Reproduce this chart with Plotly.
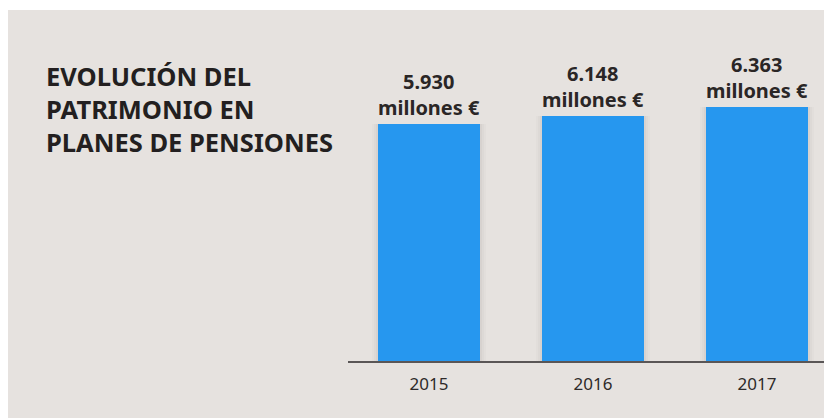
import plotly.graph_objects as go

years = ["2015", "2016", "2017"]
values = [5930, 6148, 6363]
unit_label = "millones €"
title_lines = ["EVOLUCIÓN DEL", "PATRIMONIO EN", "PLANES DE PENSIONES"]

OFF = 8  # page body margin
W, H = 832 - OFF, 418 - OFF
px = lambda v: (v - OFF) / W
py = lambda v: 1 - (v - OFF) / H

fig = go.Figure()

# soft shadow behind bars
for w, a in [(0.70, 0.018), (0.67, 0.025), (0.645, 0.035)]:
    fig.add_trace(go.Bar(x=years, y=values, width=w, marker=dict(color=f"rgba(60,40,30,{a})", line=dict(width=0)),
                         hoverinfo="skip", showlegend=False))

fig.add_trace(go.Bar(
    x=years, y=values, width=0.622,
    marker=dict(color="#2697EF", line=dict(width=0)),
    texttemplate="%{y:,.0f}<br>" + unit_label,
    textposition="outside",
    textfont=dict(family="Noto Sans", size=20, color="#2a2626", weight="bold"),
    cliponaxis=False,
    showlegend=False,
))

fig.add_annotation(
    text="<br>".join(title_lines),
    xref="paper", yref="paper", x=px(44), y=py(109),
    xanchor="left", yanchor="middle", align="left", showarrow=False,
    font=dict(family="Noto Sans", size=25.5, color="#231F20", weight="bold"),
)

fig.add_shape(type="rect", xref="paper", yref="paper",
              x0=max(px(6), 0), x1=1, y0=0, y1=py(10),
              fillcolor="#E6E2DF", line=dict(width=0), layer="below")

fig.update_layout(
    width=W, height=H,
    margin=dict(l=0, r=0, t=0, b=0),
    paper_bgcolor="white",
    plot_bgcolor="rgba(0,0,0,0)",
    barmode="overlay",
    separators=",.",
    bargap=0,
    xaxis=dict(domain=[px(348), px(827)], type="category", range=[-0.494, 2.427],
               showline=True, linecolor="#5a5656", linewidth=1.5,
               ticks="outside", ticklen=7, tickcolor="rgba(0,0,0,0)",
               tickfont=dict(family="Noto Sans", size=17, color="#2e2a2a"),
               showgrid=False, zeroline=False),
    yaxis=dict(domain=[py(361), py(10)], range=[0, 8800],
               visible=False, showgrid=False, zeroline=False),
)

fig.write_html("out.html")
